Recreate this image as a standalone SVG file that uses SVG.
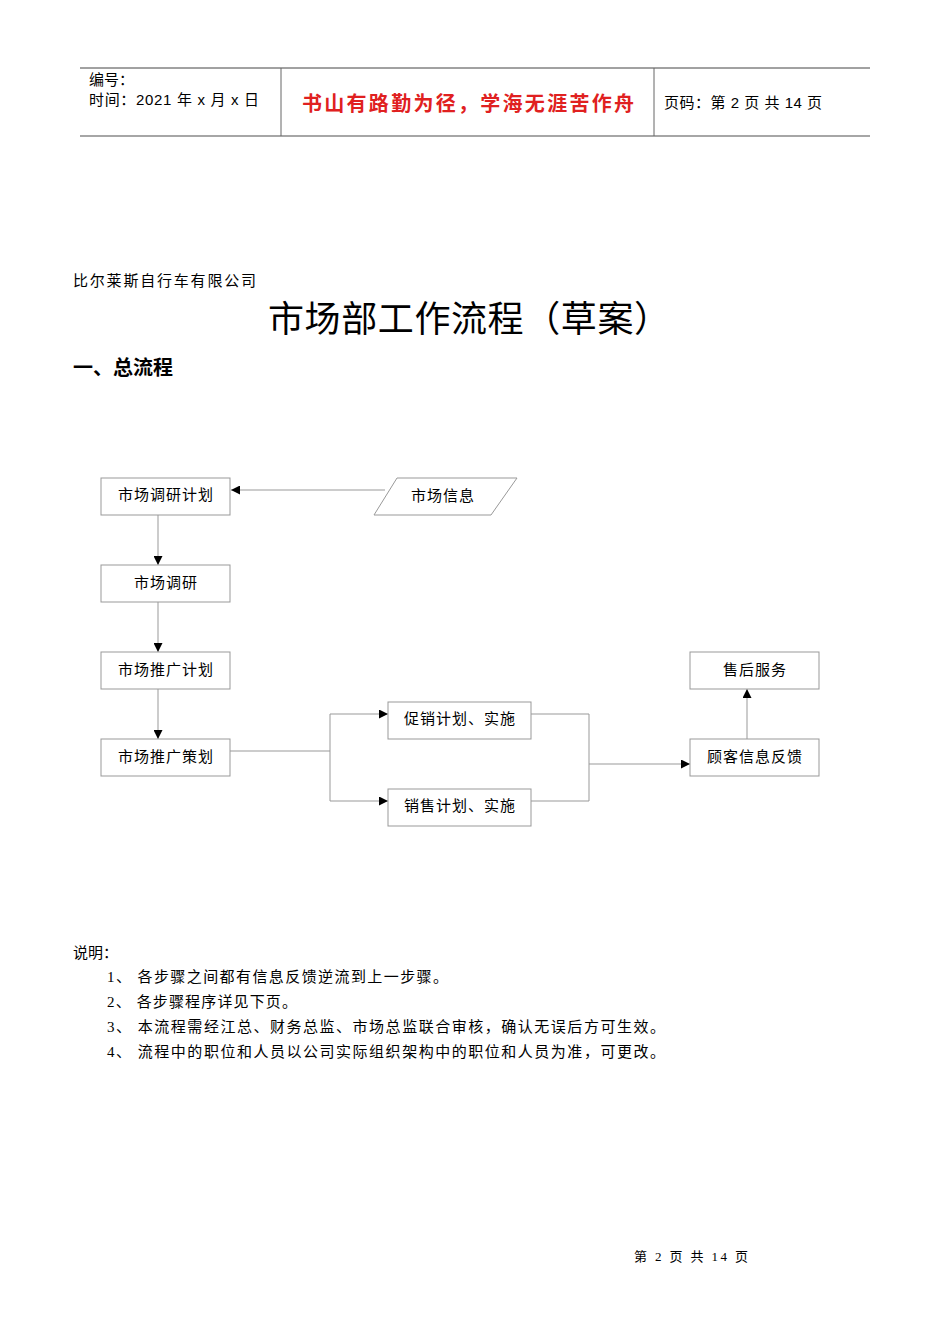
<svg xmlns="http://www.w3.org/2000/svg" width="950" height="1344" viewBox="0 0 950 1344">
<style>
.s{font-family:"Liberation Serif","Noto Sans CJK SC",serif;fill:#000}
.h{font-family:"Liberation Sans","Noto Sans CJK SC",sans-serif;fill:#000}
.b{fill:#fff;stroke:#999;stroke-width:1}
.n{font-family:"Liberation Serif","Noto Sans CJK SC",serif;font-size:15px;fill:#000;text-anchor:middle;letter-spacing:1px}
.c{fill:none;stroke:#999;stroke-width:1}
</style>
<defs><marker id="a" viewBox="0 0 10 10" refX="10" refY="5" markerWidth="9" markerHeight="9" markerUnits="userSpaceOnUse" orient="auto"><path d="M0,0L10,5L0,10z" fill="#000"/></marker></defs>
<rect width="950" height="1344" fill="#fff"/>
<g id="header">
<line x1="80" y1="68" x2="870" y2="68" stroke="#444"/>
<line x1="80" y1="136" x2="870" y2="136" stroke="#888" stroke-width="1.5"/>
<line x1="281" y1="68" x2="281" y2="136" stroke="#666"/>
<line x1="654" y1="68" x2="654" y2="136" stroke="#666"/>
<text class="h" x="89" y="85" font-size="15">编号：</text>
<text class="h" x="89" y="105" font-size="15" textLength="170">时间：2021 年 x 月 x 日</text>
<text x="302" y="111" font-size="20" font-weight="bold" fill="#e02020" textLength="332" font-family="Liberation Sans,Noto Sans CJK SC,sans-serif">书山有路勤为径，学海无涯苦作舟</text>
<text class="h" x="664" y="108" font-size="15" textLength="158">页码：第 2 页  共 14 页</text>
</g>
<text class="s" x="73" y="286" font-size="15" textLength="183">比尔莱斯自行车有限公司</text>
<text class="s" x="268" y="332" font-size="36" textLength="402">市场部工作流程（草案）</text>
<text class="h" x="73" y="375" font-size="20" font-weight="bold">一、总流程</text>
<g id="connectors">
<line class="c" x1="385" y1="490" x2="231" y2="490" marker-end="url(#a)"/>
<line class="c" x1="158" y1="515" x2="158" y2="565" marker-end="url(#a)"/>
<line class="c" x1="158" y1="602" x2="158" y2="652" marker-end="url(#a)"/>
<line class="c" x1="158" y1="689" x2="158" y2="739" marker-end="url(#a)"/>
<polyline class="c" points="230,751 330,751"/>
<polyline class="c" points="330,714 330,801"/>
<line class="c" x1="330" y1="714" x2="388" y2="714" marker-end="url(#a)"/>
<line class="c" x1="330" y1="801" x2="388" y2="801" marker-end="url(#a)"/>
<polyline class="c" points="531,714 589,714 589,801 531,801"/>
<line class="c" x1="589" y1="764" x2="690" y2="764" marker-end="url(#a)"/>
<line class="c" x1="747" y1="739" x2="747" y2="689" marker-end="url(#a)"/>
</g>
<g id="n1"><rect class="b" x="101" y="478" width="129" height="37"/><text class="n" x="166" y="500">市场调研计划</text></g>
<g id="n2"><polygon class="b" points="397,478 517,478 491,515 374,515"/><text class="n" x="443" y="501">市场信息</text></g>
<g id="n3"><rect class="b" x="101" y="565" width="129" height="37"/><text class="n" x="166" y="588">市场调研</text></g>
<g id="n4"><rect class="b" x="101" y="652" width="129" height="37"/><text class="n" x="166" y="675">市场推广计划</text></g>
<g id="n5"><rect class="b" x="101" y="739" width="129" height="37"/><text class="n" x="166" y="762">市场推广策划</text></g>
<g id="n6"><rect class="b" x="388" y="702" width="143" height="37"/><text class="n" x="460" y="724">促销计划、实施</text></g>
<g id="n7"><rect class="b" x="388" y="789" width="143" height="37"/><text class="n" x="460" y="811">销售计划、实施</text></g>
<g id="n8"><rect class="b" x="690" y="739" width="129" height="37"/><text class="n" x="755" y="762">顾客信息反馈</text></g>
<g id="n9"><rect class="b" x="690" y="652" width="129" height="37"/><text class="n" x="755" y="675">售后服务</text></g>
<g id="notes" class="s" font-size="15">
<text x="73" y="958">说明：</text>
<text x="107" y="982" textLength="341">1、 各步骤之间都有信息反馈逆流到上一步骤。</text>
<text x="107" y="1007" textLength="190">2、 各步骤程序详见下页。</text>
<text x="107" y="1032" textLength="558">3、 本流程需经江总、财务总监、市场总监联合审核，确认无误后方可生效。</text>
<text x="107" y="1057" textLength="558">4、 流程中的职位和人员以公司实际组织架构中的职位和人员为准，可更改。</text>
</g>
<text class="s" x="634" y="1261" font-size="13" textLength="114">第 2 页 共 14 页</text>
</svg>
